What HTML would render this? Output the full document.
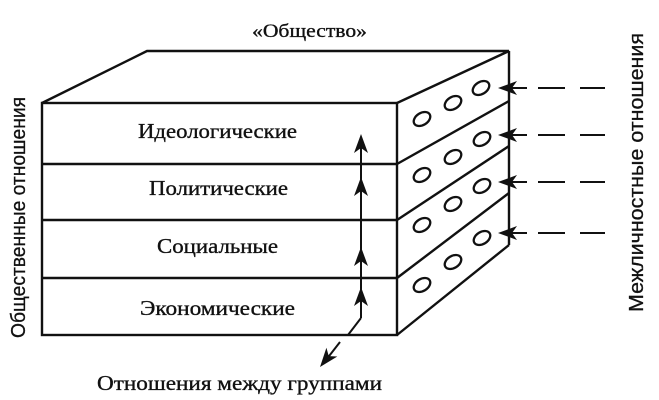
<!DOCTYPE html>
<html>
<head>
<meta charset="utf-8">
<style>
  html,body{margin:0;padding:0;background:#fff;}
  svg{display:block;}
  .serif{font-family:"Liberation Serif","Noto Serif CJK SC",serif;fill:#111;stroke:#111;stroke-width:0.35;}
  .sans{font-family:"Liberation Sans","Noto Sans CJK SC",sans-serif;fill:#111;stroke:#111;stroke-width:0.3;}
</style>
</head>
<body>
<svg width="659" height="400" viewBox="0 0 659 400" xmlns="http://www.w3.org/2000/svg">
  <rect width="659" height="400" fill="#fff"/>

  <!-- Top label -->
  <text class="serif" x="252" y="37" font-size="19" textLength="115" lengthAdjust="spacingAndGlyphs">«Общество»</text>

  <!-- Box outline -->
  <g fill="none" stroke="#111" stroke-width="2.4" stroke-linejoin="miter">
    <rect x="42" y="103" width="355" height="232"/>
    <line x1="42" y1="164" x2="397" y2="164"/>
    <line x1="42" y1="220" x2="397" y2="220"/>
    <line x1="42" y1="278" x2="397" y2="278"/>
    <polyline points="42,103 147,51 509,51 397,103"/>
    <line x1="509" y1="51" x2="509" y2="245"/>
    <line x1="397" y1="335" x2="509" y2="245"/>
    <line x1="397" y1="164" x2="509" y2="101"/>
    <line x1="397" y1="220" x2="509" y2="146"/>
    <line x1="397" y1="278" x2="509" y2="193"/>
  </g>

  <!-- Ellipses on side face -->
  <g fill="none" stroke="#111" stroke-width="2.3">
    <ellipse cx="422" cy="119" rx="9" ry="6" transform="rotate(-32 422 119)"/>
    <ellipse cx="453" cy="103" rx="9" ry="6" transform="rotate(-32 453 103)"/>
    <ellipse cx="481" cy="88" rx="9" ry="6" transform="rotate(-32 481 88)"/>

    <ellipse cx="422" cy="175" rx="9" ry="6" transform="rotate(-32 422 175)"/>
    <ellipse cx="453" cy="157" rx="9" ry="6" transform="rotate(-32 453 157)"/>
    <ellipse cx="482" cy="139" rx="9" ry="6" transform="rotate(-32 482 139)"/>

    <ellipse cx="422" cy="225" rx="9" ry="6" transform="rotate(-32 422 225)"/>
    <ellipse cx="453" cy="204" rx="9" ry="6" transform="rotate(-32 453 204)"/>
    <ellipse cx="482" cy="186" rx="9" ry="6" transform="rotate(-32 482 186)"/>

    <ellipse cx="422" cy="285" rx="9" ry="6" transform="rotate(-32 422 285)"/>
    <ellipse cx="453" cy="262" rx="9" ry="6" transform="rotate(-32 453 262)"/>
    <ellipse cx="482" cy="238" rx="9" ry="6" transform="rotate(-32 482 238)"/>
  </g>

  <!-- Layer labels -->
  <text class="serif" x="138" y="138" font-size="21" textLength="159" lengthAdjust="spacingAndGlyphs">Идеологические</text>
  <text class="serif" x="149" y="195" font-size="21" textLength="139" lengthAdjust="spacingAndGlyphs">Политические</text>
  <text class="serif" x="157" y="253" font-size="21" textLength="121" lengthAdjust="spacingAndGlyphs">Социальные</text>
  <text class="serif" x="140" y="315" font-size="21" textLength="155" lengthAdjust="spacingAndGlyphs">Экономические</text>

  <!-- Vertical arrows inside front face -->
  <g stroke="#111" stroke-width="2" fill="none">
    <line x1="361" y1="318" x2="361" y2="145"/>
    <line x1="361" y1="318" x2="348" y2="335"/>
    <line x1="340" y1="342" x2="326" y2="360"/>
  </g>
  <g fill="#111">
    <path d="M0,0 L7,19 L0,14 L-7,19 Z" transform="translate(361,134)"/>
    <path d="M0,0 L7,19 L0,14 L-7,19 Z" transform="translate(361,177)"/>
    <path d="M0,0 L7,19 L0,14 L-7,19 Z" transform="translate(361,247)"/>
    <path d="M0,0 L7,19 L0,14 L-7,19 Z" transform="translate(361,287)"/>
    <path d="M0,0 L7,19 L0,14 L-7,19 Z" transform="translate(320,367) rotate(218.7)"/>
  </g>

  <!-- Right-side arrows with dashed lines -->
  <g stroke="#111" stroke-width="2" fill="none">
    <line x1="511" y1="88" x2="527" y2="88"/>
    <line x1="538" y1="88" x2="565" y2="88"/>
    <line x1="580" y1="88" x2="605" y2="88"/>

    <line x1="511" y1="135" x2="527" y2="135"/>
    <line x1="538" y1="135" x2="565" y2="135"/>
    <line x1="580" y1="135" x2="605" y2="135"/>

    <line x1="511" y1="182" x2="527" y2="182"/>
    <line x1="538" y1="182" x2="565" y2="182"/>
    <line x1="580" y1="182" x2="605" y2="182"/>

    <line x1="511" y1="233" x2="527" y2="233"/>
    <line x1="538" y1="233" x2="565" y2="233"/>
    <line x1="580" y1="233" x2="605" y2="233"/>
  </g>
  <g fill="#111">
    <path d="M0,0 L7,19 L0,14 L-7,19 Z" transform="translate(498,88) rotate(-90)"/>
    <path d="M0,0 L7,19 L0,14 L-7,19 Z" transform="translate(498,135) rotate(-90)"/>
    <path d="M0,0 L7,19 L0,14 L-7,19 Z" transform="translate(498,182) rotate(-90)"/>
    <path d="M0,0 L7,19 L0,14 L-7,19 Z" transform="translate(498,233) rotate(-90)"/>
  </g>

  <!-- Bottom label -->
  <text class="serif" x="97" y="390" font-size="21" textLength="285" lengthAdjust="spacingAndGlyphs">Отношения между группами</text>

  <!-- Left vertical label -->
  <text class="sans" font-size="20" textLength="241" lengthAdjust="spacingAndGlyphs" transform="translate(25,338) rotate(-90)">Общественные отношения</text>

  <!-- Right vertical label -->
  <text class="sans" font-size="20" textLength="279" lengthAdjust="spacingAndGlyphs" transform="translate(643,312) rotate(-90)">Межличностные отношения</text>
</svg>
</body>
</html>
